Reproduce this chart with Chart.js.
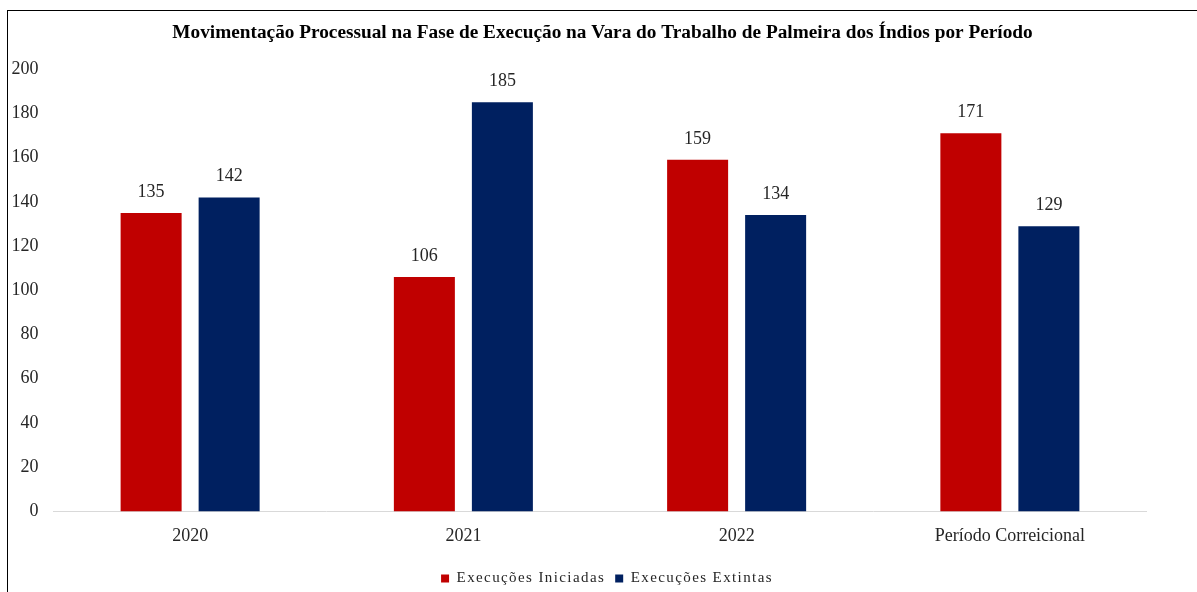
<!DOCTYPE html>
<html>
<head>
<meta charset="utf-8">
<script src="https://cdn.jsdelivr.net/npm/chart.js@4/dist/chart.umd.min.js"></script>
<style>
  html, body { margin: 0; padding: 0; background: #fff; }
  body { width: 1197px; height: 592px; position: relative; overflow: hidden; }
  #frame {
    position: absolute; left: 7px; top: 10px; width: 1300px; height: 700px;
    border-left: 1px solid #000; border-top: 1px solid #000;
  }
  #wrap { position: absolute; left: 9px; top: 11px; width: 1188px; height: 581px; }
</style>
</head>
<body>
<div id="frame"></div>
<div id="wrap"><canvas id="c" width="1188" height="581"></canvas></div>
<script>
const categories = ['2020', '2021', '2022', 'Período Correicional'];
const iniciadas = [135, 106, 159, 171];
const extintas = [142, 185, 134, 129];
const yTicks = [0, 20, 40, 60, 80, 100, 120, 140, 160, 180, 200];

const SERIF = '"Liberation Serif", "Times New Roman", serif';

// Value labels drawn above each bar
const valueLabels = {
  id: 'valueLabels',
  afterDatasetsDraw(chart) {
    const ctx = chart.ctx;
    ctx.save();
    ctx.font = '18px ' + SERIF;
    ctx.fillStyle = '#262626';
    ctx.textAlign = 'center';
    ctx.textBaseline = 'middle';
    chart.data.datasets.forEach((ds, i) => {
      chart.getDatasetMeta(i).data.forEach((bar, j) => {
        ctx.fillText(String(ds.data[j]), bar.x, bar.y - 21);
      });
    });
    ctx.restore();
  }
};

// Wider letter spacing for the legend entries
const legendSpacing = {
  id: 'legendSpacing',
  afterInit(chart) {
    const lg = chart.legend;
    if (!lg) return;
    ['fit', 'draw'].forEach(name => {
      const orig = lg[name];
      lg[name] = function () {
        const ctx = this.ctx;
        ctx.save();
        ctx.letterSpacing = '1.4px';
        const r = orig.apply(this, arguments);
        ctx.restore();
        return r;
      };
    });
  }
};

// Centre title and legend across the full frame width rather than the padded plot width
const centreBlocks = {
  id: 'centreBlocks',
  afterLayout(chart) {
    if (chart.titleBlock) { chart.titleBlock.left = 0; chart.titleBlock.right = 1187; }
    if (chart.legend) { chart.legend.left = 0; chart.legend.right = 1196; }
  }
};

new Chart(document.getElementById('c'), {
  type: 'bar',
  data: {
    labels: categories,
    datasets: [
      { label: 'Execuções Iniciadas', data: iniciadas, backgroundColor: '#C00000',
        categoryPercentage: 0.571, barPercentage: 0.782 },
      { label: 'Execuções Extintas', data: extintas, backgroundColor: '#002060',
        categoryPercentage: 0.571, barPercentage: 0.782 }
    ]
  },
  options: {
    responsive: false,
    devicePixelRatio: 1,
    animation: false,
    layout: { padding: { left: 0, right: 50.5, top: 0, bottom: -4 } },
    plugins: {
      title: {
        display: true,
        text: 'Movimentação Processual na Fase de Execução na Vara do Trabalho de Palmeira dos Índios por Período',
        color: '#000',
        font: { family: SERIF, size: 19.3, weight: 'bold' },
        padding: { top: 10, bottom: 25 }
      },
      legend: {
        position: 'bottom',
        labels: {
          color: '#262626',
          font: { family: SERIF, size: 15 },
          boxWidth: 8, boxHeight: 8, padding: 10
        }
      },
      tooltip: { enabled: false }
    },
    scales: {
      x: {
        grid: { display: false, drawTicks: false },
        border: { display: true, color: '#d9d9d9', width: 1 },
        ticks: { color: '#262626', font: { family: SERIF, size: 18 }, padding: 14 }
      },
      y: {
        min: 0, max: 200,
        afterBuildTicks(scale) { scale.ticks = yTicks.map(v => ({ value: v })); },
        afterFit(scale) { scale.width = 44.5; },
        grid: { display: false, drawTicks: false },
        border: { display: false },
        ticks: { color: '#262626', font: { family: SERIF, size: 18 }, padding: 15 }
      }
    }
  },
  plugins: [valueLabels, legendSpacing, centreBlocks]
});
</script>
</body>
</html>
